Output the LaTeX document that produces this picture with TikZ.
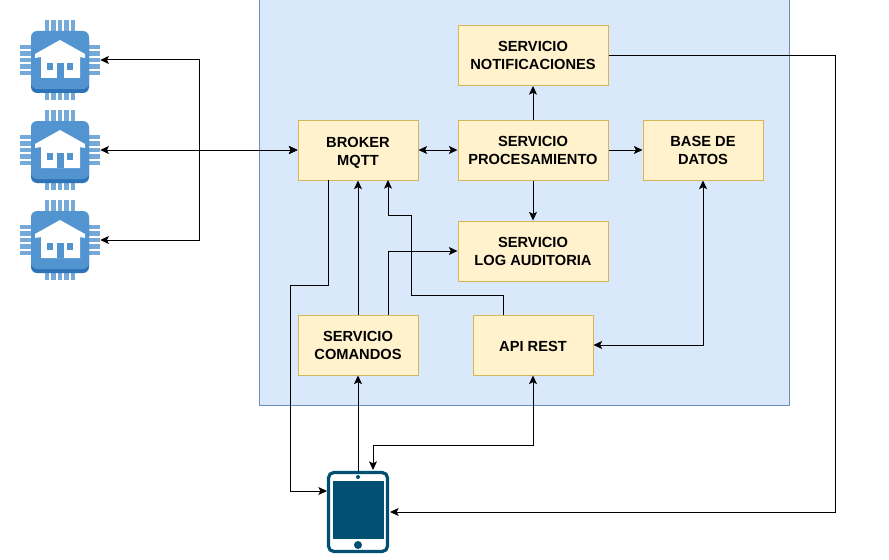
\documentclass[tikz,border=0pt]{standalone}
\usepackage{fontspec}
\setmainfont{Liberation Sans}
\usetikzlibrary{arrows.meta}
\definecolor{panelfill}{HTML}{DAE8FC}
\definecolor{paneldraw}{HTML}{6C8EBF}
\definecolor{boxfill}{HTML}{FFF2CC}
\definecolor{boxdraw}{HTML}{D6B656}
\definecolor{chipblue}{HTML}{5294CF}
\definecolor{chipdark}{HTML}{2E73B8}
\definecolor{tabletblue}{HTML}{005073}
\tikzset{
  panelbox/.style={draw=paneldraw,fill=panelfill,line width=.75pt,minimum width=397.5pt,minimum height=303.75pt,inner sep=0pt},
  svcbox/.style={draw=boxdraw,fill=boxfill,line width=.75pt,minimum width=90pt,minimum height=45pt,inner sep=0pt,align=center,font=\fontsize{11pt}{13.5pt}\selectfont\bfseries,execute at begin node={\rule{0pt}{9.8pt}}},
  widebox/.style={svcbox,minimum width=112.5pt},
  iconbox/.style={minimum width=60pt,minimum height=60pt,inner sep=0pt},
  tabletbox/.style={minimum width=46.5pt,minimum height=61.5pt,inner sep=0pt},
  conn/.style={draw=black,line width=.75pt,-{Stealth[length=6.5pt,width=6pt,inset=1.5pt]}},
  biconn/.style={conn,{Stealth[length=6.5pt,width=6pt,inset=1.5pt]}-{Stealth[length=6.5pt,width=6pt,inset=1.5pt]}},
  chipicon/.pic={
    \foreach \d in {-13,-6.5,0,6.5,13}{
      \fill[chipblue!80] (\d-2.2,-40) rectangle (\d+2.2,40);
      \fill[chipblue!80] (-40,\d-2.2) rectangle (40,\d+2.2);
    }
    \fill[chipdark,rounded corners=4.5pt] (-29,-25) rectangle (29,33);
    \fill[chipblue,rounded corners=4.5pt] (-29,-29) rectangle (29,29);
    \fill[white] (0,-20) -- (25,-6) -- (25,-2) -- (20,-3) -- (20,18) -- (-19,18) -- (-19,-3) -- (-25,-2) -- (-25,-6) -- cycle;
    \fill[chipblue] (-13,3) rectangle (-7,10);
    \fill[chipblue] (7,3) rectangle (13,10);
    \fill[chipblue] (-3,3) rectangle (4,18);
  },
}
\begin{document}
\begin{tikzpicture}[x=.75pt,y=-.75pt]
\useasboundingbox (0,0) rectangle (889,560);
\fill[white] (0,0) rectangle (889,560);

\node[panelbox] (panel) at (524.5,202.5) {};

\node[svcbox] (broker) at (358,150) {\rule{0pt}{11.6pt}BROKER\\MQTT};
\node[widebox] (proc) at (533,150) {SERVICIO\\PROCESAMIENTO};
\node[widebox] (notif) at (533,55.5) {SERVICIO\\NOTIFICACIONES};
\node[svcbox] (base) at (703,150) {BASE DE\\DATOS};
\node[widebox] (log) at (533,251) {SERVICIO\\LOG AUDITORIA};
\node[svcbox] (api) at (533,345) {API REST};
\node[svcbox] (cmd) at (358,345) {SERVICIO\\COMANDOS};

\node[iconbox] (chipa) at (60,60) {};
\node[iconbox] (chipb) at (60,150) {};
\node[iconbox] (chipc) at (60,240) {};
\pic at (chipa) {chipicon};
\pic at (chipb) {chipicon};
\pic at (chipc) {chipicon};

\node[tabletbox] (tablet) at (358,512) {};
\draw[tabletblue,line width=2.4pt,rounded corners=4pt] (328.5,472.5) rectangle (387.5,551.5);
\fill[tabletblue] (333,481) rectangle (384,539);
\fill[tabletblue] (358,477) circle (2);
\fill[tabletblue] (358,545) circle (4);

\coordinate (busa) at (199,150);
\coordinate (brkout) at (328,180);
\coordinate (brkdrop) at (328,285);
\coordinate (leftdrop) at (290,285);
\coordinate (tabwest) at (327,491);
\coordinate (tabwestdrop) at (290,491);
\coordinate (notifdrop) at (835,55);
\coordinate (apiout) at (503,315);
\coordinate (apistepa) at (503,295);
\coordinate (apistepb) at (411,295);
\coordinate (apistepc) at (411,215);
\coordinate (apistepd) at (388,215);
\coordinate (brkin) at (388,180);
\coordinate (cmdout) at (388,315);
\coordinate (logbend) at (388,251);
\coordinate (tabtopa) at (358,471);
\coordinate (tabtopb) at (373,470);
\coordinate (tabbend) at (373,445);
\coordinate (apibend) at (533,445);
\coordinate (tabeast) at (390,512);
\coordinate (notifbend) at (835,512);

\draw[biconn] (chipa.east) -- (chipa.east -| busa) -- (busa) -- (broker.west);
\draw[biconn] (chipb.east) -- (broker.west);
\draw[biconn] (chipc.east) -- (chipc.east -| busa) -- (busa) -- (broker.west);

\draw[biconn] (broker.east) -- (proc.west);
\draw[conn] (proc.north) -- (notif.south);
\draw[conn] (proc.east) -- (base.west);
\draw[conn] (proc.south) -- (log.north);
\draw[conn] (cmd.north) -- (broker.south);
\draw[conn] (cmdout) -- (logbend) -- (log.west);
\draw[conn] (apiout) -- (apistepa) -- (apistepb) -- (apistepc) -- (apistepd) -- (brkin);
\draw[conn] (brkout) -- (brkdrop) -- (leftdrop) -- (tabwestdrop) -- (tabwest);
\draw[biconn] (api.east) -- (api.east -| base.south) -- (base.south);
\draw[conn] (notif.east) -- (notif.east -| notifdrop) -- (notifbend) -- (tabeast);
\draw[conn] (tabtopa) -- (cmd.south);
\draw[biconn] (tabtopb) -- (tabbend) -- (apibend) -- (api.south);
\end{tikzpicture}
\end{document}
